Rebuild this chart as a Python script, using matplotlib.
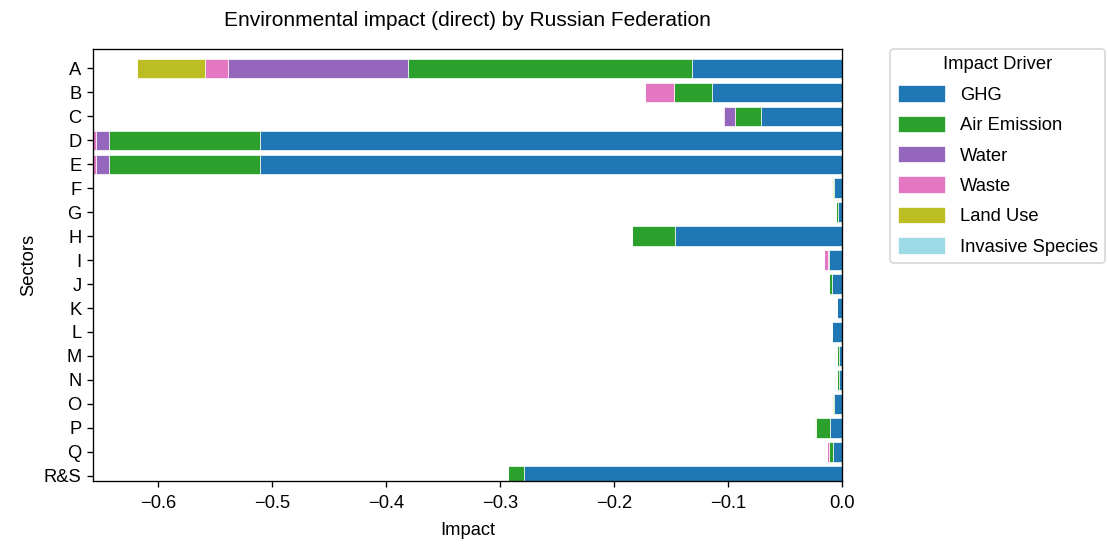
import matplotlib
matplotlib.use('Agg')
import matplotlib.pyplot as plt
import numpy as np

plt.rcParams['font.family'] = ['Liberation Sans', 'DejaVu Sans']

sectors = ['A', 'B', 'C', 'D', 'E', 'F', 'G', 'H', 'I', 'J', 'K', 'L',
           'M', 'N', 'O', 'P', 'Q', 'R&S']
drivers = ['GHG', 'Air Emission', 'Water', 'Waste', 'Land Use',
           'Invasive Species']
cores = ['#1f77b4', '#2ca02c', '#9467bd', '#e377c2', '#bcbd22', '#9edae5']

ghg = [-0.1316, -0.114, -0.071, -0.511, -0.511, -0.007, -0.0042, -0.1465,
       -0.0117, -0.0093, -0.0043, -0.0093, -0.003, -0.003, -0.0072, -0.0105,
       -0.0078, -0.2796]
air = [-0.249, -0.034, -0.023, -0.132, -0.132, -0.0012, -0.0011, -0.038,
       -0.0012, -0.0023, 0.0, 0.0, -0.0015, -0.0015, -0.001, -0.0128,
       -0.0035, -0.0137]
agua = [-0.158, 0.0, -0.0096, -0.012, -0.012, 0.0, 0.0, 0.0,
        0.0, 0.0, 0.0, 0.0, 0.0, 0.0, 0.0, 0.0, 0.0, 0.0]
residuos = [-0.020, -0.025, -0.0012, -0.002, -0.002, 0.0, 0.0, 0.0,
            -0.0029, 0.0, 0.0, 0.0, 0.0, 0.0, 0.0, 0.0, -0.0017, 0.0]
uso_terra = [-0.0605, 0.0, 0.0, 0.0, 0.0, -0.001, 0.0, 0.0,
             0.0, 0.0, 0.0, 0.0, 0.0, 0.0, -0.001, -0.0009, 0.0, 0.0]
invasoras = [0.0] * len(sectors)

series = [ghg, air, agua, residuos, uso_terra, invasoras]

fig = plt.figure(figsize=(1107 / 120, 546 / 120), dpi=120)
ax = fig.add_axes([0.0843, 0.1196, 0.6766, 0.7907])

y = np.arange(len(sectors))
base = np.zeros(len(sectors))
for nome, valores, cor in zip(drivers, series, cores):
    valores = np.array(valores)
    ax.barh(y, valores, left=base, height=0.8, color=cor, label=nome,
            edgecolor='white', linewidth=0.4)
    base = base + valores

ax.set_yticks(y)
ax.set_yticklabels(sectors, fontsize=11)
ax.set_ylim(17.2, -0.8)
ax.set_xlim(-0.657, 0)
ax.set_xticks([-0.6, -0.5, -0.4, -0.3, -0.2, -0.1, 0.0])
ax.tick_params(axis='x', labelsize=11, pad=5)
ax.set_xlabel('Impact', fontsize=11, labelpad=6)
ax.set_ylabel('Sectors', fontsize=11)
ax.set_title('Environmental impact (direct) by Russian Federation',
             fontsize=12.5, pad=14)

ax.legend(title='Impact Driver', bbox_to_anchor=(1.064, 1), loc='upper left',
          borderaxespad=0, fontsize=11, title_fontsize=11, handlelength=2.6,
          handleheight=1.0, labelspacing=0.65)

fig.savefig('out.png', dpi=120)
